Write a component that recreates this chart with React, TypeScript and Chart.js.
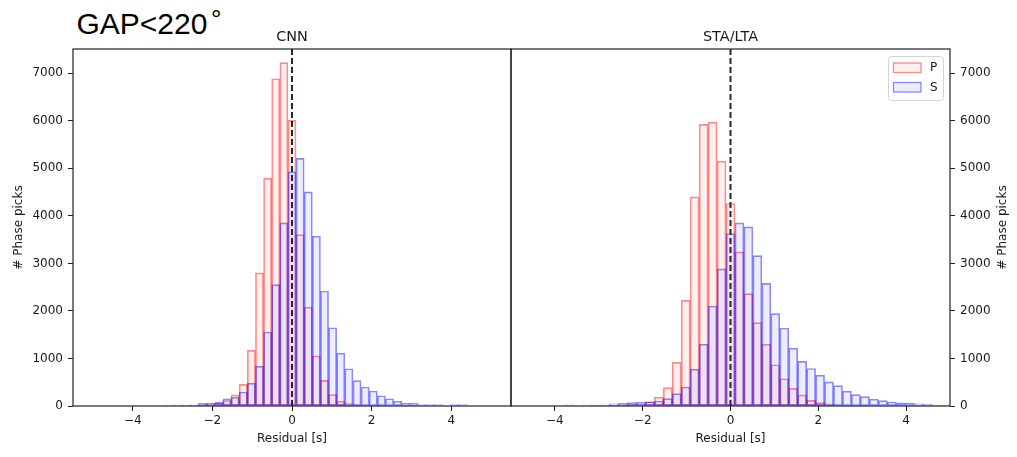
import React, { useEffect, useRef } from 'react';
import { Chart, registerables } from 'chart.js';

Chart.register(...registerables);

// Histogram bin definition (49 equal bins between -5 and 5 s)
const BIN_MIN = -5;
const BIN_MAX = 5;
const BIN_COUNT = 49;
const BIN_CENTERS = Array.from({ length: BIN_COUNT }, (_, i) => BIN_MIN + (i + 0.5) * (BIN_MAX - BIN_MIN) / BIN_COUNT);

// Counts per bin (bins ordered from -5 to +5)
const CNN_P = [
  0, 0, 0, 0, 0, 0, 0, 0, 0, 0, 0, 0, 0,
  30, 40, 60, 115, 235, 455, 1170, 2800, 4795, 6885, 7225,
  6010, 3605, 2080, 1055, 540, 240, 100, 50, 30, 15, 8, 5,
  0, 0, 0, 0, 0, 0, 0, 0, 0, 0, 0, 0, 0,
];
const CNN_S = [
  0, 0, 0, 0, 0, 0, 0, 0, 0,
  18, 18, 20, 25, 55, 55, 75, 150, 185, 295, 481, 839, 1556, 2553, 3852,
  4927, 5208, 4506, 3572, 2419, 1647, 1113, 783, 535, 400, 315, 215, 152, 100, 56, 54, 28, 28, 28, 0, 28, 28,
  0, 0, 0,
];
const STALTA_P = [
  0, 0, 0, 0, 0, 0, 0, 0, 0, 0, 0,
  5, 22, 35, 40, 90, 185, 385, 917, 2223, 4400, 5925, 5973, 5151,
  4260, 3241, 2364, 1753, 1303, 868, 573, 372, 235, 120, 72, 48, 25, 15, 5,
  0, 0, 0, 0, 0, 0, 0, 0, 0, 0,
];
const STALTA_S = [
  0, 0, 0, 0, 0, 0,
  25, 0, 18, 20, 25, 45, 55, 70, 78, 90, 105, 155, 262, 400, 776, 1303, 2103, 2883,
  3628, 3852, 3768, 3164, 2581, 1942, 1640, 1218, 940, 788, 648, 507, 430, 314, 240, 198, 145, 114, 85, 65, 62, 44, 38, 21, 17,
];

const X_TICKS = [-4, -2, 0, 2, 4];
const Y_TICKS = [0, 1000, 2000, 3000, 4000, 5000, 6000, 7000];
const Y_MAX = 7510;
const X_RANGE_LEFT = [-5.5, 5.5];
const X_RANGE_RIGHT = [-5, 5];
const REF_LINE_X = 0;
const PANEL_TITLES = ['CNN', 'STA/LTA'];
const SERIES_LABELS = ['P', 'S'];
const X_TITLE = 'Residual [s]';
const Y_TITLE = '# Phase picks';
const FIG_TITLE = 'GAP<220';

const W = 1017;
const H = 457;
const TOP = 49;
const BOTTOM = 406;
const LEFT_L = 73;
const SPLIT = 511;
const RIGHT_R = 950;

const P_FILL = 'rgba(255,0,0,0.06)';
const P_EDGE = 'rgba(255,0,0,0.45)';
const S_FILL = 'rgba(0,0,255,0.07)';
const S_EDGE = 'rgba(0,0,255,0.45)';
const TEXT = '#1a1a1a';
const FONT = 'DejaVu Sans';

const fmt = (v: number) => (v < 0 ? '\u2212' + Math.abs(v) : String(v));

function decorPlugin(side: 'left' | 'right', title: string) {
  return {
    id: 'decor_' + side,
    afterDatasetsDraw(chart: any) {
      const { ctx, chartArea: a, scales } = chart;
      const x0 = scales.x.getPixelForValue(REF_LINE_X);
      ctx.save();
      // dashed reference line
      ctx.strokeStyle = '#262626';
      ctx.lineWidth = 2;
      ctx.setLineDash([6, 3]);
      ctx.beginPath();
      ctx.moveTo(x0, a.bottom);
      ctx.lineTo(x0, a.top);
      ctx.stroke();
      ctx.setLineDash([]);
      // frame
      ctx.lineWidth = 1.2;
      ctx.strokeStyle = '#222';
      ctx.strokeRect(a.left, a.top, a.right - a.left, a.bottom - a.top);
      // panel title
      ctx.fillStyle = TEXT;
      ctx.font = `14.4px "${FONT}"`;
      ctx.textAlign = 'center';
      ctx.textBaseline = 'alphabetic';
      ctx.fillText(title, (a.left + a.right) / 2, 41);
      if (side === 'right') {
        // legend
        const bx = 888.5, by = 56.5, bw = 55, bh = 44;
        ctx.beginPath();
        ctx.roundRect(bx, by, bw, bh, 3);
        ctx.fillStyle = 'rgba(255,255,255,0.8)';
        ctx.fill();
        ctx.strokeStyle = '#d4d4d4';
        ctx.lineWidth = 1;
        ctx.stroke();
        const items = [
          { label: SERIES_LABELS[0], fill: P_FILL, edge: P_EDGE, y: 63 },
          { label: SERIES_LABELS[1], fill: S_FILL, edge: S_EDGE, y: 82.5 },
        ];
        ctx.font = `12px "${FONT}"`;
        ctx.textAlign = 'left';
        ctx.textBaseline = 'middle';
        for (const it of items) {
          ctx.fillStyle = it.fill;
          ctx.fillRect(893.5, it.y, 27.5, 9.5);
          ctx.strokeStyle = it.edge;
          ctx.lineWidth = 1.3;
          ctx.strokeRect(893.5, it.y, 27.5, 9.5);
          ctx.fillStyle = TEXT;
          ctx.fillText(it.label, 930, it.y + 5);
        }
        // right y-axis title (reads bottom to top)
        ctx.translate(1003, (a.top + a.bottom) / 2);
        ctx.rotate(-Math.PI / 2);
        ctx.textAlign = 'center';
        ctx.textBaseline = 'middle';
        ctx.font = `12px "${FONT}"`;
        ctx.fillText(Y_TITLE, 0, 0);
      }
      ctx.restore();
    },
  };
}

function makeConfig(side: 'left' | 'right'): any {
  const isLeft = side === 'left';
  const pData = isLeft ? CNN_P : STALTA_P;
  const sData = isLeft ? CNN_S : STALTA_S;
  const xr = isLeft ? X_RANGE_LEFT : X_RANGE_RIGHT;
  const tickFont = { family: FONT, size: 12 };
  const gridOpts = {
    display: true,
    drawOnChartArea: false,
    drawTicks: true,
    tickLength: 5,
    color: '#222',
    lineWidth: 1,
    offset: false,
  };
  return {
    type: 'bar',
    data: {
      datasets: [
        {
          label: SERIES_LABELS[0],
          data: BIN_CENTERS.map((x, i) => ({ x, y: pData[i] })),
          backgroundColor: P_FILL,
          borderColor: P_EDGE,
          borderWidth: 1,
          borderSkipped: false,
          grouped: false,
          barPercentage: 1,
          categoryPercentage: 1,
          order: 2,
        },
        {
          label: SERIES_LABELS[1],
          data: BIN_CENTERS.map((x, i) => ({ x, y: sData[i] })),
          backgroundColor: S_FILL,
          borderColor: S_EDGE,
          borderWidth: 1,
          borderSkipped: false,
          grouped: false,
          barPercentage: 1,
          categoryPercentage: 1,
          order: 1,
        },
      ],
    },
    options: {
      responsive: false,
      animation: false,
      devicePixelRatio: 1,
      events: [],
      layout: {
        padding: isLeft
          ? { left: 0, right: W - SPLIT, top: TOP, bottom: 0 }
          : { left: SPLIT, right: 0, top: TOP, bottom: 0 },
      },
      plugins: {
        legend: { display: false },
        tooltip: { enabled: false },
        title: { display: false },
      },
      scales: {
        x: {
          type: 'linear',
          position: 'bottom',
          min: xr[0],
          max: xr[1],
          offset: false,
          afterBuildTicks: (s: any) => {
            s.ticks = X_TICKS.map((v) => ({ value: v }));
          },
          afterFit: (s: any) => {
            s.height = H - BOTTOM;
          },
          grid: gridOpts,
          border: { display: false },
          ticks: {
            font: tickFont,
            color: TEXT,
            padding: 3,
            maxRotation: 0,
            autoSkip: false,
            callback: (v: any) => fmt(Number(v)),
          },
          title: {
            display: true,
            text: X_TITLE,
            font: tickFont,
            color: TEXT,
            padding: { top: 0, bottom: 10.8 },
          },
        },
        y: {
          type: 'linear',
          position: isLeft ? 'left' : 'right',
          min: 0,
          max: Y_MAX,
          afterBuildTicks: (s: any) => {
            s.ticks = Y_TICKS.map((v) => ({ value: v }));
          },
          afterFit: (s: any) => {
            s.width = isLeft ? LEFT_L : W - RIGHT_R;
          },
          grid: gridOpts,
          border: { display: false },
          ticks: {
            font: tickFont,
            color: TEXT,
            padding: 5,
            autoSkip: false,
            callback: (v: any) => String(v),
          },
          title: {
            display: isLeft,
            text: Y_TITLE,
            font: tickFont,
            color: TEXT,
            padding: { top: 11.3, bottom: 0 },
          },
        },
      },
    },
    plugins: [decorPlugin(side, isLeft ? PANEL_TITLES[0] : PANEL_TITLES[1])],
  };
}

export default function App() {
  const leftRef = useRef<HTMLCanvasElement | null>(null);
  const rightRef = useRef<HTMLCanvasElement | null>(null);

  useEffect(() => {
    const charts: Chart[] = [];
    if (leftRef.current) charts.push(new Chart(leftRef.current, makeConfig('left')));
    if (rightRef.current) charts.push(new Chart(rightRef.current, makeConfig('right')));
    return () => {
      charts.forEach((c) => c.destroy());
    };
  }, []);

  const canvasStyle: React.CSSProperties = { position: 'absolute', left: 0, top: 0, width: W, height: H };

  return (
    <div style={{ position: 'fixed', left: 0, top: 0, width: W, height: H, background: '#fff', overflow: 'hidden' }}>
      <div
        style={{
          position: 'absolute',
          left: 76.5,
          top: 8.9,
          fontFamily: '"Liberation Sans", Arial, sans-serif',
          fontSize: 30,
          lineHeight: '30px',
          color: '#000',
          whiteSpace: 'nowrap',
        }}
      >
        {FIG_TITLE}
        <span style={{ position: 'absolute', left: 134.5, top: -2.9, fontSize: 26, lineHeight: '26px' }}>°</span>
      </div>
      <canvas ref={leftRef} width={W} height={H} style={canvasStyle} />
      <canvas ref={rightRef} width={W} height={H} style={canvasStyle} />
    </div>
  );
}
